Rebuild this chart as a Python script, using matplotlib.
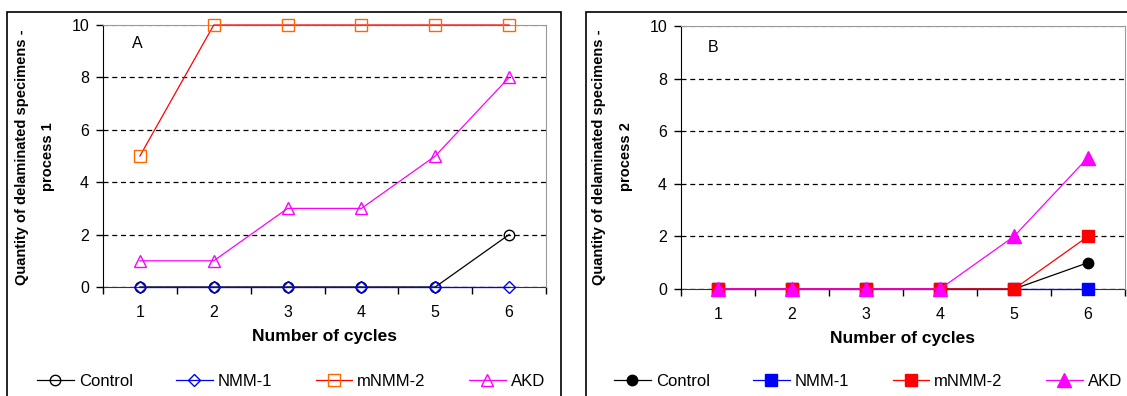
import numpy as np
import matplotlib.pyplot as plt
from matplotlib.patches import Rectangle
from matplotlib.lines import Line2D

plt.rcParams['font.family'] = ['Liberation Sans', 'DejaVu Sans']

# Data
# ===================================
cycles = [1, 2, 3, 4, 5, 6]
series_names = ["Control", "NMM-1", "mNMM-2", "AKD"]

p1_control = [0, 0, 0, 0, 0, 2]
p1_nmm1 = [0, 0, 0, 0, 0, 0]
p1_mnmm2 = [5, 10, 10, 10, 10, 10]
p1_akd = [1, 1, 3, 3, 5, 8]

p2_control = [0, 0, 0, 0, 0, 1]
p2_nmm1 = [0, 0, 0, 0, 0, 0]
p2_mnmm2 = [0, 0, 0, 0, 0, 2]
p2_akd = [0, 0, 0, 0, 2, 5]

y_ticks = [0, 2, 4, 6, 8, 10]

W, H = 1127, 396
fig = plt.figure(figsize=(W / 100, H / 100), dpi=100)


def fx(px):
    return px / W


def fy(py):
    return 1 - py / H


# panel frames
fig.patches.append(Rectangle((fx(7), fy(400)), fx(561 - 7), fy(12) - fy(400),
                             transform=fig.transFigure, fill=False, ec="black", lw=1.2))
fig.patches.append(Rectangle((fx(586), fy(400)), fx(1135 - 586), fy(12) - fy(400),
                             transform=fig.transFigure, fill=False, ec="black", lw=1.2))

# Styles per series: (line colour, marker, marker face, marker edge, size)
styles_open = [
    ("black", "o", "none", "black", 7.5),
    ("#0000ff", "D", "none", "#0000ff", 6.5),
    ("#ff0000", "s", "none", "#ff6600", 8),
    ("#ff00ff", "^", "none", "#ff00ff", 9),
]
styles_filled = [
    ("black", "o", "black", "black", 7.5),
    ("#0000ff", "s", "#0000ff", "#0000ff", 8),
    ("#ff0000", "s", "#ff0000", "#ff0000", 8),
    ("#ff00ff", "^", "#ff00ff", "#ff00ff", 9.5),
]


def draw_panel(rect, data, styles, letter, ylabel2, letter_pos, ylab_x, xlab_pos, leg_x):
    ax = fig.add_axes(rect)
    for vals, (lc, mk, mfc, mec, ms) in zip(data, styles):
        ax.plot(cycles, vals, color=lc, lw=0.9, marker=mk, mfc=mfc, mec=mec,
                ms=ms, mew=1.0, clip_on=False, zorder=3)
    ax.set_xlim(0.5, 6.5)
    ax.set_ylim(0, 10)
    ax.set_xticks(cycles)
    ax.set_xticks(np.arange(0.5, 7, 1), minor=True)
    ax.set_yticks(y_ticks)
    ax.tick_params(axis="x", which="major", length=0, pad=13, labelsize=11.5)
    ax.tick_params(axis="x", which="minor", length=5, width=1, direction="out")
    ax.tick_params(axis="y", length=5, width=1, direction="out", pad=5, labelsize=11.5)
    ax.yaxis.grid(True, color="black", linestyle=(0, (4, 3)), lw=0.9)
    ax.yaxis.get_gridlines()[-1].set_color("#888888")
    ax.set_axisbelow(True)
    for s in ("top", "right"):
        ax.spines[s].set_color("#999999")
    ax.spines["left"].set_color("black")
    ax.spines["bottom"].set_color("#333333")
    ax.spines["bottom"].set_zorder(2)
    fig.text(fx(letter_pos[0]), fy(letter_pos[1]), letter, fontsize=11.5, ha="center", va="center")
    fig.text(fx(ylab_x[0]), fy(157), "Quantity of delaminated specimens -", rotation=90,
             fontsize=10.5, fontweight="bold", ha="center", va="center")
    fig.text(fx(ylab_x[1]), fy(157), ylabel2, rotation=90,
             fontsize=10.5, fontweight="bold", ha="center", va="center")
    fig.text(fx(xlab_pos[0]), fy(xlab_pos[1]), "Number of cycles",
             fontsize=12.5, fontweight="bold", ha="center", va="center")
    handles = [Line2D([], [], color=lc, lw=0.9, marker=mk, mfc=mfc, mec=mec, ms=ms, mew=1.0)
               for (lc, mk, mfc, mec, ms) in styles]
    fig.legend(handles, series_names, loc="center left", ncol=4, frameon=False,
               bbox_to_anchor=(fx(leg_x), fy(381)), borderpad=0, borderaxespad=0,
               fontsize=12, handlelength=2.2, handletextpad=0.3, columnspacing=2.6)
    return ax


draw_panel([fx(103), fy(287), fx(546 - 103), fy(25) - fy(287)],
           [p1_control, p1_nmm1, p1_mnmm2, p1_akd], styles_open,
           "A", "process 1", (137, 44), (22, 48), (324, 337), 37)

draw_panel([fx(681), fy(289), fx(1125 - 681), fy(26) - fy(289)],
           [p2_control, p2_nmm1, p2_mnmm2, p2_akd], styles_filled,
           "B", "process 2", (713, 47), (599, 626), (903, 339), 614)

plt.savefig("out.png", dpi=100)
